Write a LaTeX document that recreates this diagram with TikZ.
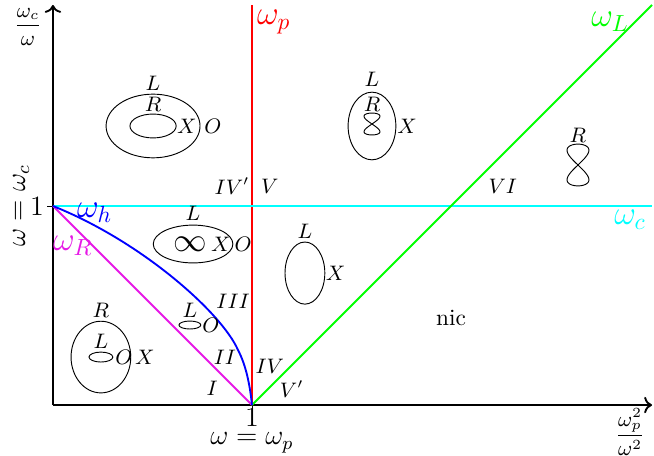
\documentclass[tikz,border=0pt]{standalone}
\usepackage{xcolor}
\usepackage{tikz}
\usetikzlibrary{arrows.meta,positioning}
\definecolor{cutred}{HTML}{FF0000}
\definecolor{cutcyan}{HTML}{00FFFF}
\definecolor{cutgreen}{HTML}{00FF00}
\definecolor{cutmagenta}{HTML}{E619E6}
\definecolor{cutblue}{HTML}{0000FF}

\begin{document}
\begin{tikzpicture}[
    x=3cm, y=3cm,
    axis/.style={thick, ->},
    cutoff/.style={thick},
    surface/.style={draw=black, thin},
    eight/.style={thin, smooth, domain=0:360, samples=73, variable=\t},
    wave/.style={font=\small, inner sep=1pt},
    region/.style={font=\small, inner sep=1pt},
    curvelabel/.style={font=\Large, inner sep=1pt}
]
    \useasboundingbox (-0.266,-0.256) rectangle (3.02,2.035);

    % axes and cutoff / resonance lines
    \coordinate (O) at (0,0);
    \coordinate (xend) at (3.01,0);
    \coordinate (yend) at (0,2.01);
    \coordinate (P) at (1,0);
    \coordinate (C) at (0,1);
    \coordinate (ptop) at (1,2.01);
    \coordinate (cend) at (3.01,1);
    \coordinate (Lend) at (3.01,2.01);
    \coordinate (ptick) at (1,-0.03);
    \coordinate (ctick) at (-0.03,1);
    \coordinate (bend) at (0.93,0.276);

    \draw[axis] (O) -- (xend);
    \draw[axis] (O) -- (yend);
    \draw[thin] (P) -- (ptick);
    \draw[thin] (C) -- (ctick);
    \draw[cutoff, cutred] (P) -- (ptop);
    \draw[cutoff, cutcyan] (C) -- (cend);
    \draw[cutoff, cutgreen] (P) -- (Lend);
    \draw[cutoff, cutmagenta] (C) -- (P);
    \draw[cutoff, cutblue] (C) .. controls (0.45,0.82) and (0.85,0.46) .. (bend)
        .. controls (0.97,0.2) and (0.99,0.1) .. (P);

    % axis labels
    \node[font=\small, inner sep=1pt] (ylab) at (-0.125,1.90) {$\displaystyle\frac{\omega_c}{\omega}$};
    \node[font=\small, inner sep=1pt] (xlab) at (2.90,-0.135) {$\displaystyle\frac{\omega_p^2}{\omega^2}$};
    \node[font=\large, inner sep=1pt] (onex) at (1,-0.065) {$1$};
    \node[font=\large, inner sep=1pt] (wpeq) at (1,-0.19) {$\omega=\omega_p$};
    \node[font=\large, inner sep=1pt] (oney) at (-0.08,1) {$1$};
    \node[font=\large, rotate=90, inner sep=1pt] (wceq) at (-0.16,1) {$\omega=\omega_c$};

    % curve labels
    \node[curvelabel, text=cutred] (wplab) at (1.11,1.925) {$\omega_p$};
    \node[curvelabel, text=cutgreen] (wLlab) at (2.80,1.925) {$\omega_L$};
    \node[curvelabel, text=cutcyan] (wclab) at (2.90,0.93) {$\omega_c$};
    \node[curvelabel, text=cutblue] (whlab) at (0.21,0.965) {$\omega_h$};
    \node[curvelabel, text=cutmagenta] (wRlab) at (0.10,0.80) {$\omega_R$};

    % region numbers
    \node[region] (rIVp) at (0.90,1.10) {$IV'$};
    \node[region] (rV) at (1.09,1.10) {$V$};
    \node[region] (rVI) at (2.26,1.10) {$VI$};
    \node[region] (rIII) at (0.905,0.523) {$III$};
    \node[region] (rII) at (0.864,0.241) {$II$};
    \node[region] (rI) at (0.80,0.085) {$I$};
    \node[region] (rIV) at (1.09,0.196) {$IV$};
    \node[region] (rVp) at (1.20,0.08) {$V'$};
    \node (nic) at (2.0,0.437) {nic};

    % nested ellipses top left
    \draw[surface] (0.503,1.402) ellipse [x radius=0.236, y radius=0.16];
    \draw[surface] (0.503,1.402) ellipse [x radius=0.116, y radius=0.06];
    \node[wave] (aL) at (0.503,1.618) {$L$};
    \node[wave] (aR) at (0.503,1.513) {$R$};
    \node[wave] (aX) at (0.673,1.402) {$X$};
    \node[wave] (aO) at (0.804,1.402) {$O$};

    % region V
    \draw[surface] (1.603,1.402) ellipse [x radius=0.12, y radius=0.17];
    \draw[eight] plot ({1.603+0.08*sin(\t)*cos(\t)}, {1.412+0.055*sin(\t)});
    \node[wave] (bL) at (1.603,1.638) {$L$};
    \node[wave] (bR) at (1.603,1.513) {$R$};
    \node[wave] (bX) at (1.779,1.402) {$X$};

    % region VI
    \draw[eight] plot ({2.638+0.11*sin(\t)*cos(\t)}, {1.206+0.105*sin(\t)});
    \node[wave] (cR) at (2.638,1.357) {$R$};

    % region III
    \draw[surface] (0.704,0.809) ellipse [x radius=0.2, y radius=0.095];
    \node[font=\Large, inner sep=0pt] (dinf) at (0.69,0.809) {$\infty$};
    \node[wave] (dL) at (0.704,0.962) {$L$};
    \node[wave] (dX) at (0.844,0.809) {$X$};
    \node[wave] (dO) at (0.955,0.809) {$O$};

    % region IV
    \draw[surface] (1.266,0.663) ellipse [x radius=0.1, y radius=0.156];
    \node[wave] (eL) at (1.266,0.872) {$L$};
    \node[wave] (eX) at (1.42,0.663) {$X$};

    % region II
    \draw[surface] (0.688,0.402) ellipse [x radius=0.055, y radius=0.02];
    \node[wave] (fL) at (0.688,0.477) {$L$};
    \node[wave] (fO) at (0.794,0.402) {$O$};

    % region I
    \draw[surface] (0.241,0.241) ellipse [x radius=0.15, y radius=0.18];
    \draw[surface] (0.241,0.241) ellipse [x radius=0.06, y radius=0.025];
    \node[wave] (gR) at (0.241,0.477) {$R$};
    \node[wave] (gL) at (0.241,0.322) {$L$};
    \node[wave] (gO) at (0.357,0.241) {$O$};
    \node[wave] (gX) at (0.462,0.241) {$X$};
\end{tikzpicture}
\end{document}
